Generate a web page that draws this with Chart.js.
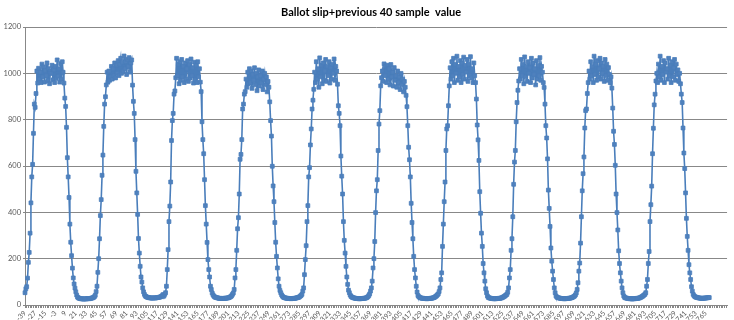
<!DOCTYPE html>
<html>
<head>
<meta charset="utf-8">
<script src="https://cdn.jsdelivr.net/npm/chart.js@4.4.1/dist/chart.umd.min.js"></script>
<style>
  html, body { margin: 0; padding: 0; background: #fff; }
  #wrap { width: 734px; height: 320px; position: relative; }
</style>
</head>
<body>
<div id="wrap"><canvas id="ballotChart"></canvas></div>
<script>
// sample numbers on the x axis (one category per sample)
const firstSample = -39;
const lastSample = 769;
const blankTail = 21;   // empty rows at the end of the source range
const labelStep = 12;

// y axis
const yMin = 0;
const yMax = 1200;
const yStep = 200;

// values, one array per peak (rise, top, fall, bottom)
const peak1 = [53, 70, 79, 116, 184, 227, 310, 441,
  553, 607, 741, 867, 853, 913,
  1010, 958, 1022, 975, 1005, 960, 1040, 985, 1028, 962, 1012, 990, 1045, 968, 1020, 955, 1008,
  1000, 1035, 972, 1015, 960, 1030, 978, 1058, 988, 1020, 962, 1042, 975, 1050, 1005, 958,
  893, 857, 767, 636, 553, 464, 349, 271, 213, 159, 117, 91, 73, 57, 43, 34,
  31, 29, 28, 27, 27, 26, 26, 26, 27, 26, 27, 27, 28, 27, 28, 29, 30, 31, 33, 36];
const peak2 = [42, 58, 81, 141, 200, 286, 386, 455,
  560, 647, 771, 867, 899, 950,
  1005, 962, 1010, 970, 985, 1030, 975, 1020, 990, 1045, 980, 1035, 1000, 1055, 990, 1040,
  1065, 1000, 1048, 1010, 1075, 1020, 1050, 995, 1060, 1030, 1068, 1005, 1045, 1058,
  949, 879, 827, 714, 577, 484, 391, 287, 224, 167, 121, 99, 74, 57, 46, 39,
  36, 34, 33, 32, 31, 31, 30, 30, 30, 31, 31, 30, 31, 32, 32, 33, 34, 35, 37, 40, 45];
const peak3 = [38, 46, 53, 81, 153, 239, 360, 427,
  531, 710, 796, 827, 910, 924,
  981, 1065, 990, 1040, 955, 1050, 970, 1060, 985, 1030, 960, 1045, 975, 1020, 1055, 965,
  1038, 980, 1062, 990, 1025, 958, 1048, 972, 1035, 960, 1050, 985, 1020, 962,
  921, 791, 714, 653, 541, 429, 349, 270, 196, 153, 121, 81, 67, 52, 44, 38,
  35, 33, 32, 31, 30, 29, 29, 28, 28, 28, 29, 28, 29, 29, 30, 30, 31, 32, 34, 36, 40, 46];
const peak4 = [52, 67, 117, 153, 236, 329, 377, 479,
  629, 650, 714, 846, 867, 910,
  921, 975, 940, 1005, 955, 1020, 960, 1010, 935, 995, 970, 1024, 950, 1000, 925, 985,
  1015, 945, 990, 960, 1010, 930, 975, 1000, 950, 985, 920, 965, 940,
  877, 796, 729, 599, 514, 446, 356, 271, 210, 160, 113, 81, 63, 53, 44, 38,
  34, 32, 31, 30, 29, 29, 28, 28, 28, 27, 28, 28, 28, 29, 29, 30, 31, 32, 33, 35, 38, 41];
const peak5 = [46, 60, 74, 131, 196, 256, 360, 429,
  553, 593, 691, 760, 846, 884,
  931, 1005, 960, 1050, 975, 1020, 940, 1067, 985, 1035, 955, 1045, 970, 1010, 1060, 965,
  1030, 990, 1050, 958, 1025, 975, 1040, 1000, 1062, 970, 1030, 1010, 953,
  860, 827, 774, 643, 556, 479, 360, 279, 224, 167, 121, 89, 64, 53, 43, 37,
  34, 32, 31, 30, 29, 28, 28, 28, 27, 27, 27, 28, 28, 28, 29, 29, 30, 31, 33, 36, 41, 48];
const peak6 = [60, 74, 103, 160, 200, 274, 399, 493,
  541, 667, 781, 839, 946, 981,
  1010, 965, 1041, 990, 1030, 960, 1035, 975, 1020, 950, 1038, 985, 1005, 945, 1025, 970,
  990, 940, 1010, 960, 985, 930, 1000, 950, 975, 920, 965, 940, 905,
  856, 774, 681, 627, 553, 439, 356, 286, 210, 153, 117, 81, 56, 41, 36, 33,
  31, 30, 29, 29, 28, 28, 28, 27, 27, 28, 28, 28, 29, 29, 30, 31, 32, 34, 37, 40, 44];
const peak7 = [48, 58, 74, 110, 139, 253, 349, 446,
  531, 667, 760, 774, 860, 946,
  1024, 975, 1050, 990, 1065, 960, 1040, 1000, 1074, 970, 1030, 985, 1055, 960, 1045, 995,
  1070, 975, 1035, 1005, 1060, 965, 1040, 990, 1072, 980, 1020, 960, 1045, 990,
  960, 889, 777, 713, 624, 489, 396, 310, 253, 179, 139, 103, 70, 53, 39, 33,
  31, 30, 29, 28, 28, 27, 27, 27, 27, 28, 28, 28, 29, 29, 30, 31, 33, 35, 37, 40, 43];
const peak8 = [46, 55, 74, 117, 153, 236, 286, 381,
  521, 617, 667, 791, 874, 927,
  967, 1020, 975, 1060, 990, 1040, 955, 1071, 985, 1030, 965, 1050, 1000, 1025, 960, 1065,
  980, 1045, 995, 1020, 950, 1055, 975, 1035, 990, 1068, 970, 1030, 1005, 960,
  939, 867, 774, 721, 631, 496, 417, 339, 246, 189, 146, 110, 74, 53, 39, 34,
  32, 31, 30, 29, 28, 28, 28, 27, 27, 27, 28, 28, 28, 29, 29, 30, 31, 32, 34, 36, 39, 44];
const peak9 = [52, 67, 96, 146, 181, 267, 381, 493,
  567, 639, 764, 839, 846, 913,
  960, 1010, 975, 1050, 990, 1030, 960, 1074, 995, 1040, 970, 1055, 985, 1020, 1065, 975,
  1045, 1000, 1030, 965, 1060, 990, 1040, 970, 1025, 995, 960, 985,
  936, 850, 750, 693, 603, 479, 399, 324, 234, 179, 139, 103, 74, 53, 39, 33,
  31, 30, 29, 28, 28, 27, 27, 27, 26, 27, 27, 27, 28, 28, 29, 29, 30, 31, 33, 35, 37, 40, 43];
const peak10 = [46, 53, 81, 110, 179, 231, 360, 433,
  513, 653, 763, 864, 910, 967,
  1000, 960, 1040, 985, 1074, 970, 1030, 995, 1055, 960, 1045, 1005, 1020, 975, 1065, 990,
  1035, 960, 1050, 985, 1025, 1060, 970, 1040, 995, 1015, 965, 1000, 955,
  910, 874, 764, 656, 589, 484, 374, 296, 236, 174, 139, 110, 79, 60, 46, 40,
  36, 34, 33, 32, 31, 30, 30, 29, 29, 29, 29, 30, 30, 30, 31, 31, 32, 32];

const sampleValues = [].concat(peak1, peak2, peak3, peak4, peak5, peak6, peak7, peak8, peak9, peak10);

const categories = [];
for (let s = firstSample; s <= lastSample; s++) categories.push(String(s));
for (let k = 0; k < blankTail; k++) categories.push('');

const axisGrey = '#888888';
const textGrey = '#595959';

// Titel oben, fest positioniert
const titlePlugin = {
    id: 'excelTitle',
    afterDraw(chart) {
        const ctx = chart.ctx;
        ctx.save();
        ctx.font = 'bold 11px Lato, "Open Sans", sans-serif';
        ctx.fillStyle = '#000000';
        ctx.textAlign = 'center';
        ctx.textBaseline = 'alphabetic';
        ctx.fillText('Ballot slip+previous 40 sample  value', chart.width / 2 + 4, 16);
        ctx.restore();
    }
};

const ctx = document.getElementById('ballotChart').getContext('2d');
new Chart(ctx, {
    type: 'line',
    data: {
        labels: categories,
        datasets: [{
            label: 'Ballot slip+previous 40 sample value',
            data: sampleValues,
            borderColor: '#4a7ebb',
            borderWidth: 1.6,
            backgroundColor: '#4f81bd',
            pointStyle: 'rect',
            pointRadius: 2.7,
            pointBorderWidth: 0.8,
            pointBackgroundColor: '#4f81bd',
            pointBorderColor: '#4a7ebb',
            tension: 0,
            fill: false
        }]
    },
    options: {
        responsive: true,
        maintainAspectRatio: false,
        animation: false,
        layout: {
            padding: { top: 27, right: 2, left: 0, bottom: 0 }
        },
        plugins: {
            legend: { display: false },
            tooltip: { enabled: false },
            title: { display: false }
        },
        scales: {
            x: {
                type: 'category',
                offset: false,
                afterFit(scale) { scale.height = 15; },
                grid: {
                    drawOnChartArea: false,
                    drawTicks: true,
                    tickLength: 3,
                    color: c => (c.index % 2 === 0 ? axisGrey : 'rgba(0,0,0,0)')
                },
                border: { color: axisGrey, width: 1 },
                ticks: {
                    autoSkip: false,
                    minRotation: 45,
                    maxRotation: 45,
                    padding: 1,
                    color: textGrey,
                    font: { family: 'Lato, "Open Sans", sans-serif', size: 7 },
                    callback: (v, i) => (i % labelStep === 0 ? categories[i] : '')
                }
            },
            y: {
                min: yMin,
                max: yMax,
                afterFit(scale) { scale.width = 25; },
                grid: {
                    color: axisGrey,
                    lineWidth: 1,
                    tickLength: 2
                },
                border: { color: axisGrey, width: 1 },
                ticks: {
                    stepSize: yStep,
                    padding: 2,
                    color: textGrey,
                    font: { family: 'Lato, "Open Sans", sans-serif', size: 7.5 },
                    callback: v => String(v)
                }
            }
        }
    },
    plugins: [titlePlugin]
});
</script>
</body>
</html>
